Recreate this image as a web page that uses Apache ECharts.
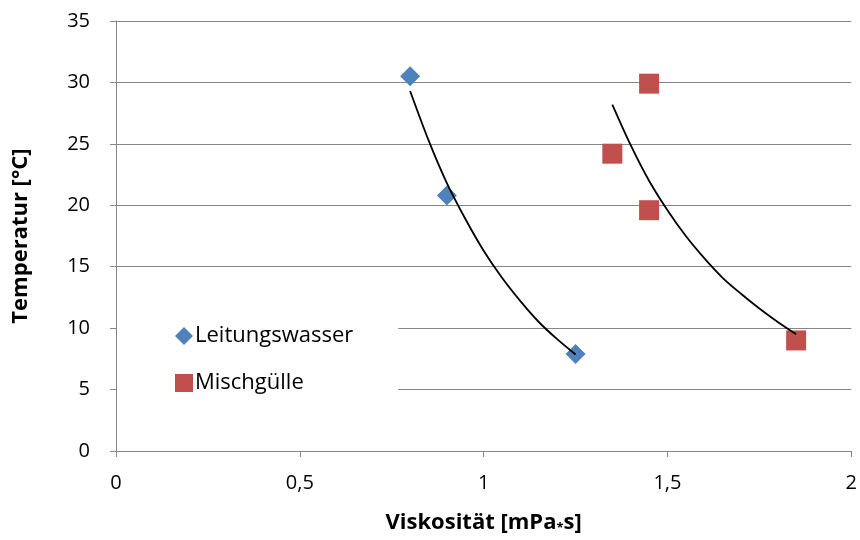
<!DOCTYPE html>
<html><head><meta charset="utf-8">
<script src="https://cdn.jsdelivr.net/npm/echarts@6/dist/echarts.min.js"></script>
<style>html,body{margin:0;padding:0;background:#fff}#c{width:860px;height:540px}</style>
</head><body><div id="c"></div>
<script>
// Data
const leitungswasserX = [0.8, 0.9, 1.25];
const leitungswasserY = [30.5, 20.8, 7.9];
const mischguelleX = [1.45, 1.35, 1.45, 1.85];
const mischguelleY = [29.9, 24.2, 19.6, 9.0];
// Trend curves
const trendLwX = [0.80, 0.85, 0.90, 0.95, 1.00, 1.05, 1.10, 1.15, 1.20, 1.25];
const trendLwY = [29.3, 25.3, 21.8, 18.9, 16.3, 14.1, 12.2, 10.5, 9.1, 7.85];
const trendMgX = [1.35, 1.40, 1.45, 1.50, 1.55, 1.60, 1.65, 1.70, 1.75, 1.80, 1.85];
const trendMgY = [28.2, 24.9, 22.0, 19.6, 17.5, 15.7, 14.1, 12.8, 11.6, 10.5, 9.5];
const xTicks = [0, 0.5, 1, 1.5, 2];
const yTicks = [0, 5, 10, 15, 20, 25, 30, 35];

const zip = (a, b) => a.map((v, i) => [v, b[i]]);
const FONT = 'Open Sans';
const FS = 20;   // tick labels
const FT = 22;   // titles and legend
const chart = echarts.init(document.getElementById('c'), null, {renderer: 'canvas'});
chart.setOption({
  animation: false,
  backgroundColor: '#fff',
  textStyle: {fontFamily: FONT},
  grid: {left: 116, right: 5, top: 21, bottom: 87, containLabel: false},
  xAxis: {
    type: 'value', min: xTicks[0], max: xTicks[xTicks.length - 1], interval: 0.5,
    name: 'Viskosität [mPa{s|*}s]', nameLocation: 'middle', nameGap: 60,
    nameTextStyle: {fontFamily: FONT, fontSize: FT, fontWeight: 'bold', color: '#000',
      rich: {s: {fontFamily: FONT, fontSize: 13, fontWeight: 'bold', color: '#000', padding: [11, 0, 0, 0]}}},
    axisLine: {lineStyle: {color: '#868686', width: 1}},
    axisTick: {show: true, length: 6, lineStyle: {color: '#868686'}},
    splitLine: {show: false},
    axisLabel: {fontFamily: FONT, fontSize: FS, color: '#000', margin: 22,
      formatter: v => String(v).replace('.', ',')}
  },
  yAxis: {
    type: 'value', min: yTicks[0], max: yTicks[yTicks.length - 1], interval: 5,
    name: 'Temperatur [°C]', nameLocation: 'middle', nameGap: 84, nameRotate: 90,
    nameTextStyle: {fontFamily: FONT, fontSize: FT, fontWeight: 'bold', color: '#000'},
    axisLine: {show: true, lineStyle: {color: '#868686', width: 1}},
    axisTick: {show: true, length: 6, lineStyle: {color: '#868686'}},
    splitLine: {show: true, lineStyle: {color: '#868686', width: 1.2}},
    axisLabel: {fontFamily: FONT, fontSize: FS, color: '#000', margin: 26}
  },
  legend: {
    orient: 'vertical', left: 117, top: 315,
    padding: [10, 45, 12, 58], itemGap: 25,
    backgroundColor: '#fff',
    itemWidth: 18, itemHeight: 18,
    textStyle: {fontFamily: FONT, fontSize: FT, color: '#000', padding: [0, 0, 0, -3]},
    data: [
      {name: 'Leitungswasser', icon: 'diamond'},
      {name: 'Mischgülle', icon: 'rect'}
    ]
  },
  series: [
    {name: 'trendLw', type: 'line', data: zip(trendLwX, trendLwY), smooth: 0.3,
     showSymbol: false, symbol: 'none', lineStyle: {color: '#000', width: 1.8}, z: 3, silent: true},
    {name: 'trendMg', type: 'line', data: zip(trendMgX, trendMgY), smooth: 0.3,
     showSymbol: false, symbol: 'none', lineStyle: {color: '#000', width: 1.8}, z: 3, silent: true},
    {name: 'Leitungswasser', type: 'scatter', symbol: 'diamond', symbolSize: 20,
     itemStyle: {color: '#4F81BD', opacity: 1}, data: zip(leitungswasserX, leitungswasserY), z: 2},
    {name: 'Mischgülle', type: 'scatter', symbol: 'rect', symbolSize: 20,
     itemStyle: {color: '#C0504D', opacity: 1}, data: zip(mischguelleX, mischguelleY), z: 2}
  ]
});
</script></body></html>
